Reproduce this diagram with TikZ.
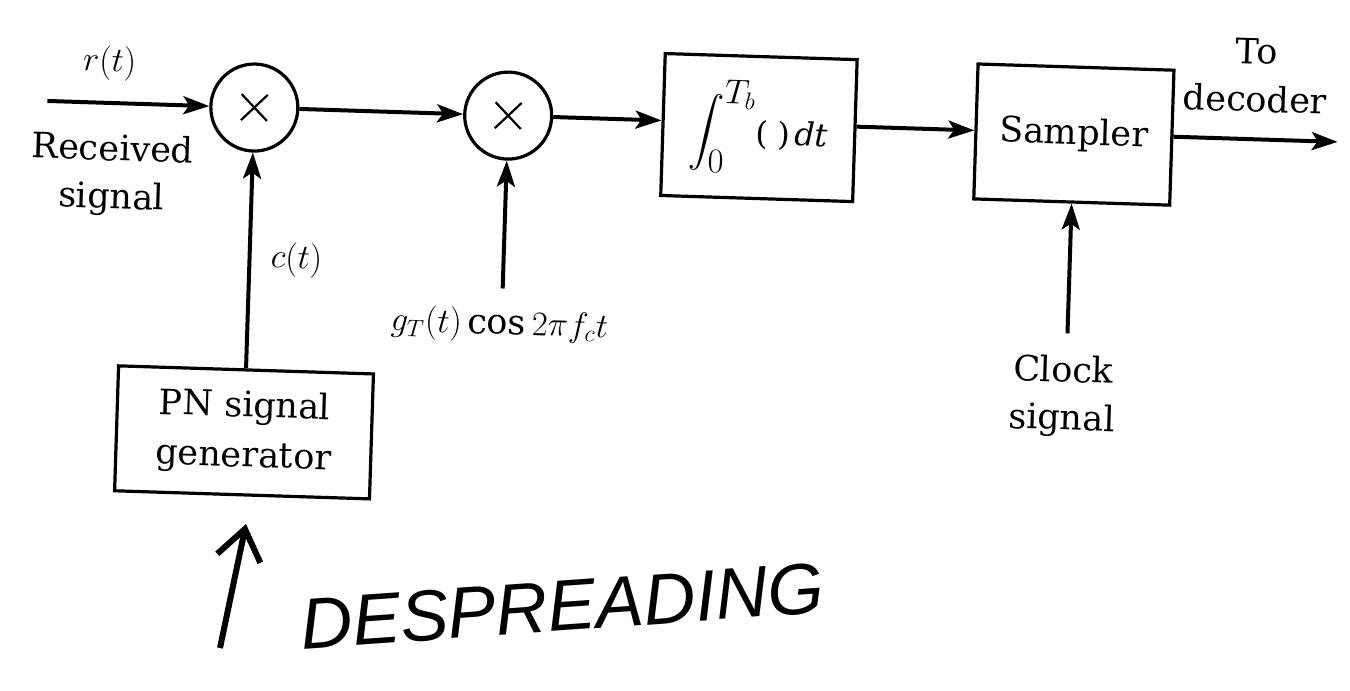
\documentclass[tikz,border=0pt]{standalone}
\usepackage{amsmath}
\usepackage{fontspec}
\setmainfont{DejaVu Serif}
\newfontfamily\handfont{Liberation Sans}
\usetikzlibrary{arrows.meta}
\begin{document}
\begin{tikzpicture}[x=0.5pt,y=-0.5pt,
  sig/.style={line width=2pt,-{Stealth[length=13pt,width=9pt,inset=3pt]}},
  mixer/.style={circle,draw,line width=1.6pt,minimum size=43.5pt,inner sep=0pt},
  blockbox/.style={draw,line width=1.6pt,inner sep=0pt,align=center,
    font=\fontsize{17.5}{25}\selectfont},
  lbl/.style={font=\fontsize{17.5}{24}\selectfont,align=center,inner sep=0pt},
  cross/.style={line width=1.1pt},
  hand/.style={line width=3pt,-{Straight Barb[length=15pt,width=22pt]}},
]
\useasboundingbox (0,0) rectangle (1350,691);
\begin{scope}[rotate around={-1.82:(675,345)}, transform shape]
  % mixers and blocks
  \node[blockbox,minimum width=96pt,minimum height=71pt] (intg) at (752,125)
    {{\fontsize{18}{20}\selectfont$\displaystyle\int_{\textstyle 0}^{\textstyle T_b}$}%
     \raisebox{-1pt}{\fontsize{16}{16}\selectfont(\hspace{5pt})\hspace{2pt}\textit{dt}}};
  \node[mixer] (m1) at (247,121) {};
  \node[mixer] (m2) at (501,121) {};
  \node[blockbox,minimum width=98pt,minimum height=67.5pt] (smp) at (1067,122) {Sampler};
  \node[blockbox,minimum width=127.5pt,minimum height=62.5pt] (pn) at (247,446)
    {PN signal\\generator};
  % multiplication crosses
  \draw[cross] ([shift={(-13,-13)}]m1.center) -- ([shift={(13,13)}]m1.center);
  \draw[cross] ([shift={(-13,13)}]m1.center) -- ([shift={(13,-13)}]m1.center);
  \draw[cross] ([shift={(-13,-13)}]m2.center) -- ([shift={(13,13)}]m2.center);
  \draw[cross] ([shift={(-13,13)}]m2.center) -- ([shift={(13,-13)}]m2.center);
  % free ends
  \coordinate (in) at (40,121);
  \coordinate (out) at (1331,121);
  \coordinate (gin) at (501,294);
  \coordinate (clk) at (1067,321);
  % labels
  \node[lbl] (rt) at (101,81) {$r(t)$};
  \node[lbl] (recv) at (107,193) {Received\\signal};
  \node[lbl] (ct) at (294,272) {$c(t)$};
  \node[lbl] (gt) at (499,331) {$g_T(t)\cos 2\pi f_c t$};
  \node[lbl] (clock) at (1064,384) {Clock\\signal};
  \node[lbl] (todec) at (1247,57) {To\\decoder};
  % signal path
  \draw[sig] (in) -- (m1);
  \draw[sig] (m1) -- (m2);
  \draw[sig] (m2.east) -- (m2.east -| intg.west);
  \draw[sig] (m2.east -| intg.east) -- (m2.east -| smp.west);
  \draw[sig] (m2.east -| smp.east) -- (out);
  \draw[sig] (pn) -- (m1);
  \draw[sig] (gin) -- (m2);
  \draw[sig] (clk) -- (smp);
\end{scope}
% handwritten note
\coordinate (hwtail) at (220,648);
\coordinate (hwtip) at (246,524);
\draw[hand] (hwtail) -- (hwtip);
\node[font=\handfont\itshape\fontsize{36}{40}\selectfont, rotate=4, inner sep=0pt]
  (hw) at (562,606) {DESPREADING};
\end{tikzpicture}
\end{document}
